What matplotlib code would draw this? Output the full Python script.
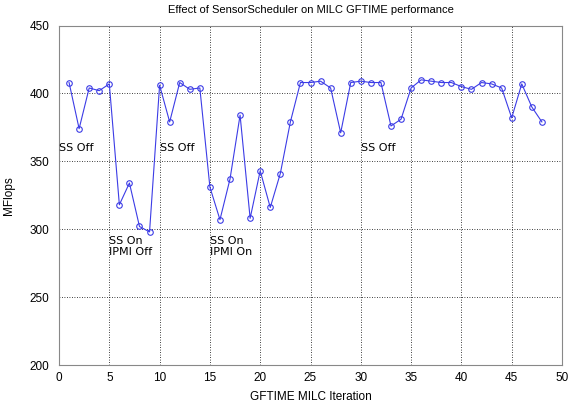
import matplotlib
matplotlib.use("Agg")
import matplotlib.pyplot as plt

iterations = list(range(1, 49))
mflops = [408, 374, 404, 402, 407, 318, 334, 302, 298, 406,
          379, 408, 403, 404, 331, 307, 337, 384, 308, 343,
          316, 341, 379, 408, 408, 409, 404, 371, 408, 409,
          408, 408, 376, 381, 404, 410, 409, 408, 408, 405,
          403, 408, 407, 404, 382, 407, 390, 379]

labels = ["SS Off", "SS On\nIPMI Off", "SS Off", "SS On\nIPMI On", "SS Off"]
label_x = [0, 5, 10, 15, 30]
label_y = [360, 287, 360, 287, 360]

fig = plt.figure(figsize=(5.69, 4.04), dpi=100)
ax = fig.add_axes([59 / 569, 1 - 365 / 404, (562 - 59) / 569, (365 - 25.5) / 404])

ax.plot(iterations, mflops, color="#3c3ce6", lw=0.8, marker="o", ms=4,
        mfc="none", mec="#3c3ce6", mew=0.8)

for txt, x, y in zip(labels, label_x, label_y):
    ax.text(x, y, txt, fontsize=8, family="DejaVu Sans", va="center", ha="left",
            linespacing=1.15)

ax.set_xlim(0, 50)
ax.set_ylim(200, 450)
ax.set_xticks(range(0, 51, 5))
ax.set_yticks(range(200, 451, 50))
ax.grid(True, color="black", ls=(0, (1, 2)), lw=0.6)
ax.tick_params(direction="in", length=0, labelsize=8.5)
ax.tick_params(axis="y", pad=7)
ax.tick_params(axis="x", pad=5)
for lab in ax.get_xticklabels() + ax.get_yticklabels():
    lab.set_family("Liberation Sans")
for s in ax.spines.values():
    s.set_color("#888888")
    s.set_linewidth(0.8)

ax.set_title("Effect of SensorScheduler on MILC GFTIME performance",
             fontsize=8, family="Liberation Sans", pad=9)
ax.set_xlabel("GFTIME MILC Iteration", fontsize=8.5, family="Liberation Sans", labelpad=5)
ax.set_ylabel("MFlops", fontsize=8.5, family="Liberation Sans", va="center")
ax.yaxis.set_label_coords(-0.099, 0.5)

fig.savefig("out.png", dpi=100)
